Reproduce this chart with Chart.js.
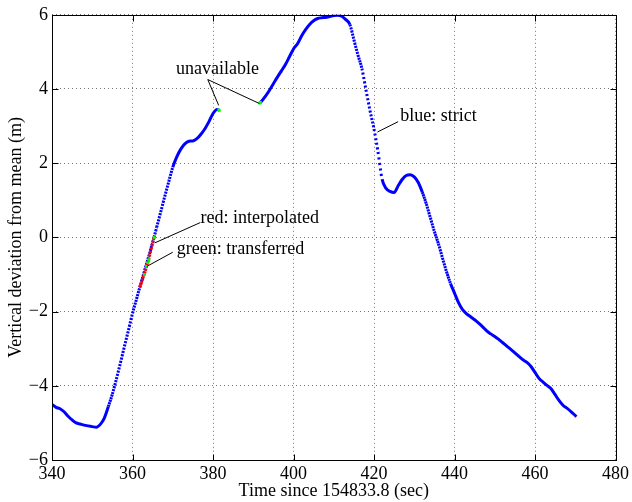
<!DOCTYPE html>
<html>
<head>
<meta charset="utf-8">
<title>Vertical deviation from mean</title>
<script src="https://cdn.jsdelivr.net/npm/chart.js@4/dist/chart.umd.min.js"></script>
<style>
  html, body { margin: 0; padding: 0; background: #fff; }
  canvas { display: block; }
</style>
</head>
<body>
<canvas id="chart" width="632" height="502"></canvas>
<script>
// Time (s since 154833.8) and vertical deviation (m), strict solution.
// A null marks the stretch where no solution is available.
const strictTime = [
  340, 341, 342, 343, 344, 345, 346, 347, 348, 349, 350, 351, 352, 353, 354, 355,
  356, 357, 358, 359, 360, 361, 361.8,
  365.35, 366, 367, 368, 369, 370, 371, 372, 373, 374, 375, 376, 377, 378, 379, 380, 381, 381.6,
  386,
  391.6, 392, 393, 394, 395, 396, 397, 398, 399, 400, 401, 402, 403, 404, 405, 406, 407, 408,
  409, 410, 411, 412, 413, 414, 415, 416, 417, 418, 419, 420, 421, 422, 423, 424, 425, 426,
  427, 428, 429, 430, 431, 432, 433, 434, 435, 436, 437, 438, 439, 440, 441, 442, 443, 444,
  445, 446, 447, 448, 449, 450, 451, 452, 453, 454, 455, 456, 457, 458, 459, 460, 461, 462,
  463, 464, 465, 466, 467, 468, 469, 470, 470.3
];
const strictValue = [
  -4.50, -4.58, -4.62, -4.70, -4.82, -4.92, -5.00, -5.03, -5.06, -5.08, -5.10, -5.12, -5.04, -4.87, -4.56, -4.22,
  -3.82, -3.38, -2.94, -2.50, -2.05, -1.66, -1.35,
  0.00, 0.27, 0.68, 1.10, 1.50, 1.89, 2.17, 2.38, 2.52, 2.59, 2.60, 2.66, 2.78, 2.93, 3.12, 3.34, 3.45, 3.42,
  null,
  3.62, 3.66, 3.80, 3.96, 4.14, 4.32, 4.49, 4.66, 4.87, 5.08, 5.22, 5.43, 5.60, 5.74, 5.84, 5.90, 5.92, 5.93,
  5.95, 5.98, 5.99, 5.96, 5.87, 5.74, 5.33, 4.92, 4.55, 3.98, 3.42, 2.92, 2.30, 1.57, 1.32, 1.24, 1.21, 1.39,
  1.56, 1.67, 1.69, 1.63, 1.48, 1.22, 0.90, 0.53, 0.16, -0.17, -0.55, -0.92, -1.24, -1.50, -1.76, -1.95, -2.06, -2.14,
  -2.22, -2.31, -2.41, -2.52, -2.60, -2.67, -2.75, -2.84, -2.93, -3.02, -3.11, -3.21, -3.30, -3.37, -3.48, -3.64, -3.80, -3.90,
  -3.99, -4.08, -4.24, -4.40, -4.53, -4.61, -4.70, -4.80, -4.83
];

// Interpolated stretch
const interpTime  = [361.8, 362, 363, 364, 365, 365.35];
const interpValue = [-1.35, -1.29, -0.97, -0.60, -0.15, 0.00];

// Transferred samples
const transferTime  = [362.9, 363.5, 363.8, 364.1, 365.35, 381.4, 381.6, 391.6, 391.8];
const transferValue = [-1.00, -0.78, -0.68, -0.60, 0.00, 3.44, 3.42, 3.62, 3.64];

const xTickValues = [340, 360, 380, 400, 420, 440, 460, 480];
const yTickValues = [-6, -4, -2, 0, 2, 4, 6];

// Callout texts and their leader lines (data coordinates)
const callouts = [
  { text: 'unavailable', at: [381.1, 4.41], align: 'center',
    lines: [[[378.7, 4.255], [381.4, 3.56]], [[378.7, 4.255], [391.5, 3.61]]] },
  { text: 'red: interpolated', at: [376.9, 0.39], align: 'left',
    lines: [[[376.85, 0.40], [365.5, -0.15]]] },
  { text: 'green: transferred', at: [371.0, -0.46], align: 'left',
    lines: [[[370.0, -0.40], [363.6, -0.78]]] },
  { text: 'blue: strict', at: [426.5, 3.15], align: 'left',
    lines: [[[426.0, 3.12], [420.85, 2.84]]] }
];

const FONT = '"Liberation Serif", "Times New Roman", Times, serif';
Chart.defaults.font.family = FONT;
Chart.defaults.font.size = 18;
Chart.defaults.color = '#000';

const toPoints = (t, v) => t.map((x, i) => ({ x, y: v[i] }));

// Samples are 0.2 s apart; on steep stretches they separate into dots.
const SAMPLE_STEP = 0.2;
const DOT = 2.1;
function sampleDots(ctx) {
  const data = ctx.chart.data.datasets[ctx.datasetIndex].data;
  const a = data[ctx.p0DataIndex], b = data[ctx.p1DataIndex];
  const dt = b.x - a.x;
  if (!(dt > 0)) return undefined;
  const len = Math.hypot(ctx.p1.x - ctx.p0.x, ctx.p1.y - ctx.p0.y);
  const gap = len * SAMPLE_STEP / dt - DOT;
  return gap > 0.35 ? [DOT, gap] : undefined;
}

const frameAndCallouts = {
  id: 'frameAndCallouts',
  afterDraw(chart) {
    const { ctx, chartArea: a, scales: { x, y } } = chart;
    const L = Math.round(a.left) + 0.5, R = Math.round(a.right) + 0.5;
    const T = Math.round(a.top) + 0.5, B = Math.round(a.bottom) + 0.5;
    ctx.save();
    ctx.strokeStyle = '#000';
    ctx.lineWidth = 1;
    ctx.strokeRect(L, T, R - L, B - T);
    ctx.beginPath();
    const tick = 6;
    x.ticks.forEach(t => {
      const px = Math.round(x.getPixelForValue(t.value)) + 0.5;
      ctx.moveTo(px, B); ctx.lineTo(px, B - tick);
      ctx.moveTo(px, T); ctx.lineTo(px, T + tick);
    });
    y.ticks.forEach(t => {
      const py = Math.round(y.getPixelForValue(t.value)) + 0.5;
      ctx.moveTo(L, py); ctx.lineTo(L + tick, py);
      ctx.moveTo(R, py); ctx.lineTo(R - tick, py);
    });
    ctx.stroke();

    // callouts
    ctx.lineWidth = 1;
    ctx.strokeStyle = '#000';
    ctx.beginPath();
    callouts.forEach(c => c.lines.forEach(([p, q]) => {
      ctx.moveTo(x.getPixelForValue(p[0]), y.getPixelForValue(p[1]));
      ctx.lineTo(x.getPixelForValue(q[0]), y.getPixelForValue(q[1]));
    }));
    ctx.stroke();
    ctx.fillStyle = '#000';
    ctx.font = '18px ' + FONT;
    ctx.textBaseline = 'alphabetic';
    callouts.forEach(c => {
      ctx.textAlign = c.align;
      ctx.fillText(c.text, x.getPixelForValue(c.at[0]), y.getPixelForValue(c.at[1]));
    });
    ctx.restore();
  }
};

const minus = v => (v < 0 ? '\u2212' + Math.abs(v) : String(v));

new Chart(document.getElementById('chart'), {
  type: 'line',
  data: {
    datasets: [
      {
        label: 'transferred',
        data: toPoints(transferTime, transferValue),
        showLine: false,
        pointStyle: 'rect',
        pointRadius: 1.9,
        pointBorderWidth: 0,
        pointBackgroundColor: '#00ff00',
        order: 0
      },
      {
        label: 'interpolated',
        data: toPoints(interpTime, interpValue),
        borderColor: '#ff0000',
        borderWidth: 3,
        borderCapStyle: 'butt',
        pointRadius: 0,
        segment: { borderDash: sampleDots },
        order: 1
      },
      {
        label: 'strict',
        data: toPoints(strictTime, strictValue),
        borderColor: '#0000ff',
        borderWidth: 3,
        borderCapStyle: 'butt',
        borderJoinStyle: 'round',
        pointRadius: 0,
        cubicInterpolationMode: 'monotone',
        spanGaps: false,
        segment: { borderDash: sampleDots },
        order: 2
      }
    ]
  },
  options: {
    responsive: false,
    animation: false,
    events: [],
    layout: { padding: { left: 0, right: 14, top: 13, bottom: 0 } },
    plugins: { legend: { display: false }, tooltip: { enabled: false } },
    scales: {
      x: {
        type: 'linear',
        min: 340, max: 480,
        afterBuildTicks: s => { s.ticks = xTickValues.map(value => ({ value })); },
        afterFit: s => { s.height = 42; },
        ticks: { padding: 3, maxRotation: 0, autoSkip: false, callback: minus },
        grid: { color: 'rgba(0,0,0,0.55)', lineWidth: 1, drawTicks: false },
        border: { display: false, dash: [1, 3] },
        title: { display: true, text: 'Time since 154833.8 (sec)', padding: { top: 0, bottom: 0 } }
      },
      y: {
        type: 'linear',
        min: -6, max: 6,
        afterBuildTicks: s => { s.ticks = yTickValues.map(value => ({ value })); },
        afterFit: s => { s.width = 52; },
        ticks: { padding: 4, autoSkip: false, callback: minus },
        grid: { color: 'rgba(0,0,0,0.55)', lineWidth: 1, drawTicks: false },
        border: { display: false, dash: [1, 3] },
        title: { display: true, text: 'Vertical deviation from mean (m)', padding: { top: 5, bottom: 0 } }
      }
    }
  },
  plugins: [frameAndCallouts]
});
</script>
</body>
</html>
